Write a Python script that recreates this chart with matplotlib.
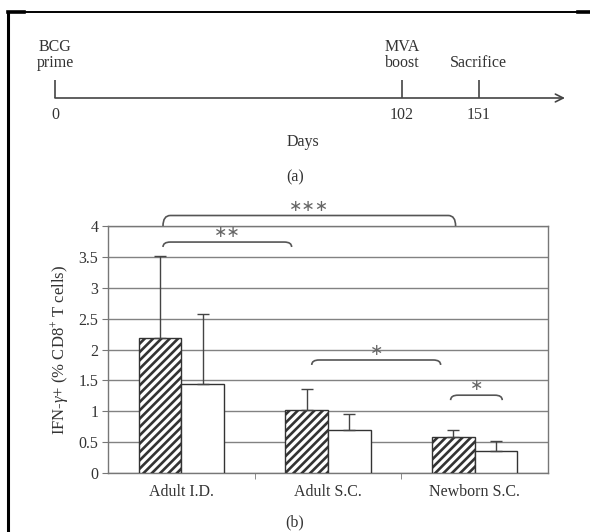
import numpy as np
import matplotlib
matplotlib.use("Agg")
import matplotlib.pyplot as plt
from matplotlib.lines import Line2D
from matplotlib.path import Path
from matplotlib.patches import PathPatch

# timeline (a)
days = [0, 102, 151]
event_labels = ["BCG\nprime", "MVA\nboost", "Sacrifice"]

# bar chart (b)
groups = ["Adult I.D.", "Adult S.C.", "Newborn S.C."]
hatched_vals = [2.18, 1.02, 0.59]
hatched_err = [1.34, 0.34, 0.10]
white_vals = [1.44, 0.69, 0.36]
white_err = [1.14, 0.26, 0.16]

# significance brackets: (x start, x end, level, stars)
brackets = [
    (-0.125, 1.87, 4.17, "***"),
    (-0.125, 0.752, 3.74, "**"),
    (0.889, 1.768, 1.83, "*"),
    (1.836, 2.188, 1.26, "*"),
]

W, H = 590, 532
plt.rcParams["font.family"] = ["Liberation Serif", "DejaVu Serif"]
plt.rcParams["mathtext.fontset"] = "custom"
plt.rcParams["mathtext.rm"] = "Liberation Serif"
plt.rcParams["mathtext.it"] = "Liberation Serif:italic"
plt.rcParams["hatch.linewidth"] = 1.9
plt.rcParams["hatch.color"] = "#1a1a1a"

txt = "#333333"
axc = "#777777"

fig = plt.figure(figsize=(W / 100, H / 100), dpi=100)


def fx(px):
    return px / W


def fy(py):
    return 1 - py / H


# frame round the figure
fig.add_artist(Line2D([fx(8), fx(8)], [fy(12), 0], color="black", lw=2.2))
fig.add_artist(Line2D([fx(8), 1], [fy(12), fy(12)], color="black", lw=1.4))
fig.add_artist(Line2D([fx(8), fx(24)], [fy(12), fy(12)], color="black", lw=2.6))
fig.add_artist(Line2D([fx(578), 1], [fy(12), fy(12)], color="black", lw=2.6))

# ---- (a) timeline ----
ax_t = fig.add_axes([fx(55), fy(98), fx(565) - fx(55), fy(80) - fy(98)])
tl_scale = ([0, 102, 151, 176], [0, 0.68, 0.831, 1.0])
ax_t.set_xscale("function", functions=(lambda x: np.interp(x, *tl_scale),
                                       lambda f: np.interp(f, tl_scale[1], tl_scale[0])))
ax_t.set_xlim(0, 176)
ax_t.set_ylim(0, 1)
ax_t.axis("off")
ax_t.annotate("", xy=(1, 0), xytext=(0, 0), xycoords="axes fraction",
              arrowprops=dict(arrowstyle="->", lw=1.2, color="#444444",
                              shrinkA=0, shrinkB=0, mutation_scale=14))
ax_t.vlines(days, 0, 1, color="#444444", lw=1.2, clip_on=False)
for d, lab in zip(days, event_labels):
    ax_t.text(d, 1.5, lab, ha="center", va="bottom", fontsize=11.5,
              color=txt, linespacing=1.0)
    ax_t.text(d, -0.95, str(d), ha="center", va="center", fontsize=11.5,
              color=txt)

fig.text(fx(303), fy(142), "Days", ha="center", va="center", fontsize=11.5, color=txt)
fig.text(fx(295), fy(177), "(a)", ha="center", va="center", fontsize=11.5, color=txt)

# ---- (b) bar chart ----
ax = fig.add_axes([fx(108), fy(473), fx(548) - fx(108), fy(226) - fy(473)])
x = np.arange(len(groups))
bw = 0.29
ax.bar(x - bw / 2, hatched_vals, bw, facecolor="white", edgecolor="#333333",
       hatch="////", lw=1.0, zorder=3)
ax.bar(x + bw / 2, white_vals, bw, facecolor="white", edgecolor="#333333",
       lw=1.0, zorder=3)
ax.errorbar(x - bw / 2, hatched_vals, yerr=[np.zeros(3), hatched_err], fmt="none",
            ecolor="#444444", elinewidth=1.0, capsize=4, capthick=1.0, zorder=4)
ax.errorbar(x + bw / 2, white_vals, yerr=[np.zeros(3), white_err], fmt="none",
            ecolor="#444444", elinewidth=1.0, capsize=4, capthick=1.0, zorder=4)

ax.set_xlim(-0.5, 2.5)
ax.set_ylim(0, 4)
ax.set_yticks(np.arange(0, 4.01, 0.5))
ax.set_yticklabels(["0", "0.5", "1", "1.5", "2", "2.5", "3", "3.5", "4"])
ax.set_xticks(x)
ax.set_xticklabels(groups)
ax.set_xticks([0.5, 1.5], minor=True)
ax.tick_params(axis="x", which="major", length=0, pad=8, labelsize=11.5, labelcolor=txt)
ax.tick_params(axis="x", which="minor", length=4, direction="out", color=axc)
ax.tick_params(axis="y", length=4, direction="out", color=axc, labelsize=11.5,
               labelcolor=txt, pad=3)
ax.grid(axis="y", color="#828282", lw=1.0, zorder=0)
for s in ax.spines.values():
    s.set_color(axc)
    s.set_linewidth(1.0)
ax.set_ylabel(r"IFN-$\it{\gamma}$+ (% CD8$^{+}$ T cells)", fontsize=12, color=txt,
              labelpad=5)

for x0, x1, lev, stars in brackets:
    drop = 0.17 if stars == "***" else 0.08
    r = 0.05
    verts = [(x0, lev - drop), (x0, lev), (x0 + r, lev), (x1 - r, lev),
             (x1, lev), (x1, lev - drop)]
    codes = [Path.MOVETO, Path.CURVE3, Path.CURVE3, Path.LINETO,
             Path.CURVE3, Path.CURVE3]
    ax.add_patch(PathPatch(Path(verts, codes), fill=False, edgecolor="#555555",
                           lw=1.2, clip_on=False, zorder=5))
    ax.text((x0 + x1) / 2, lev + 0.03, "\u2217" * len(stars), ha="center",
            va="bottom", fontsize=11.5, color="#666666", clip_on=False,
            family=["DejaVu Sans"])

fig.text(fx(295), fy(522), "(b)", ha="center", va="center", fontsize=11.5, color=txt)

fig.savefig("out.png", dpi=100)
